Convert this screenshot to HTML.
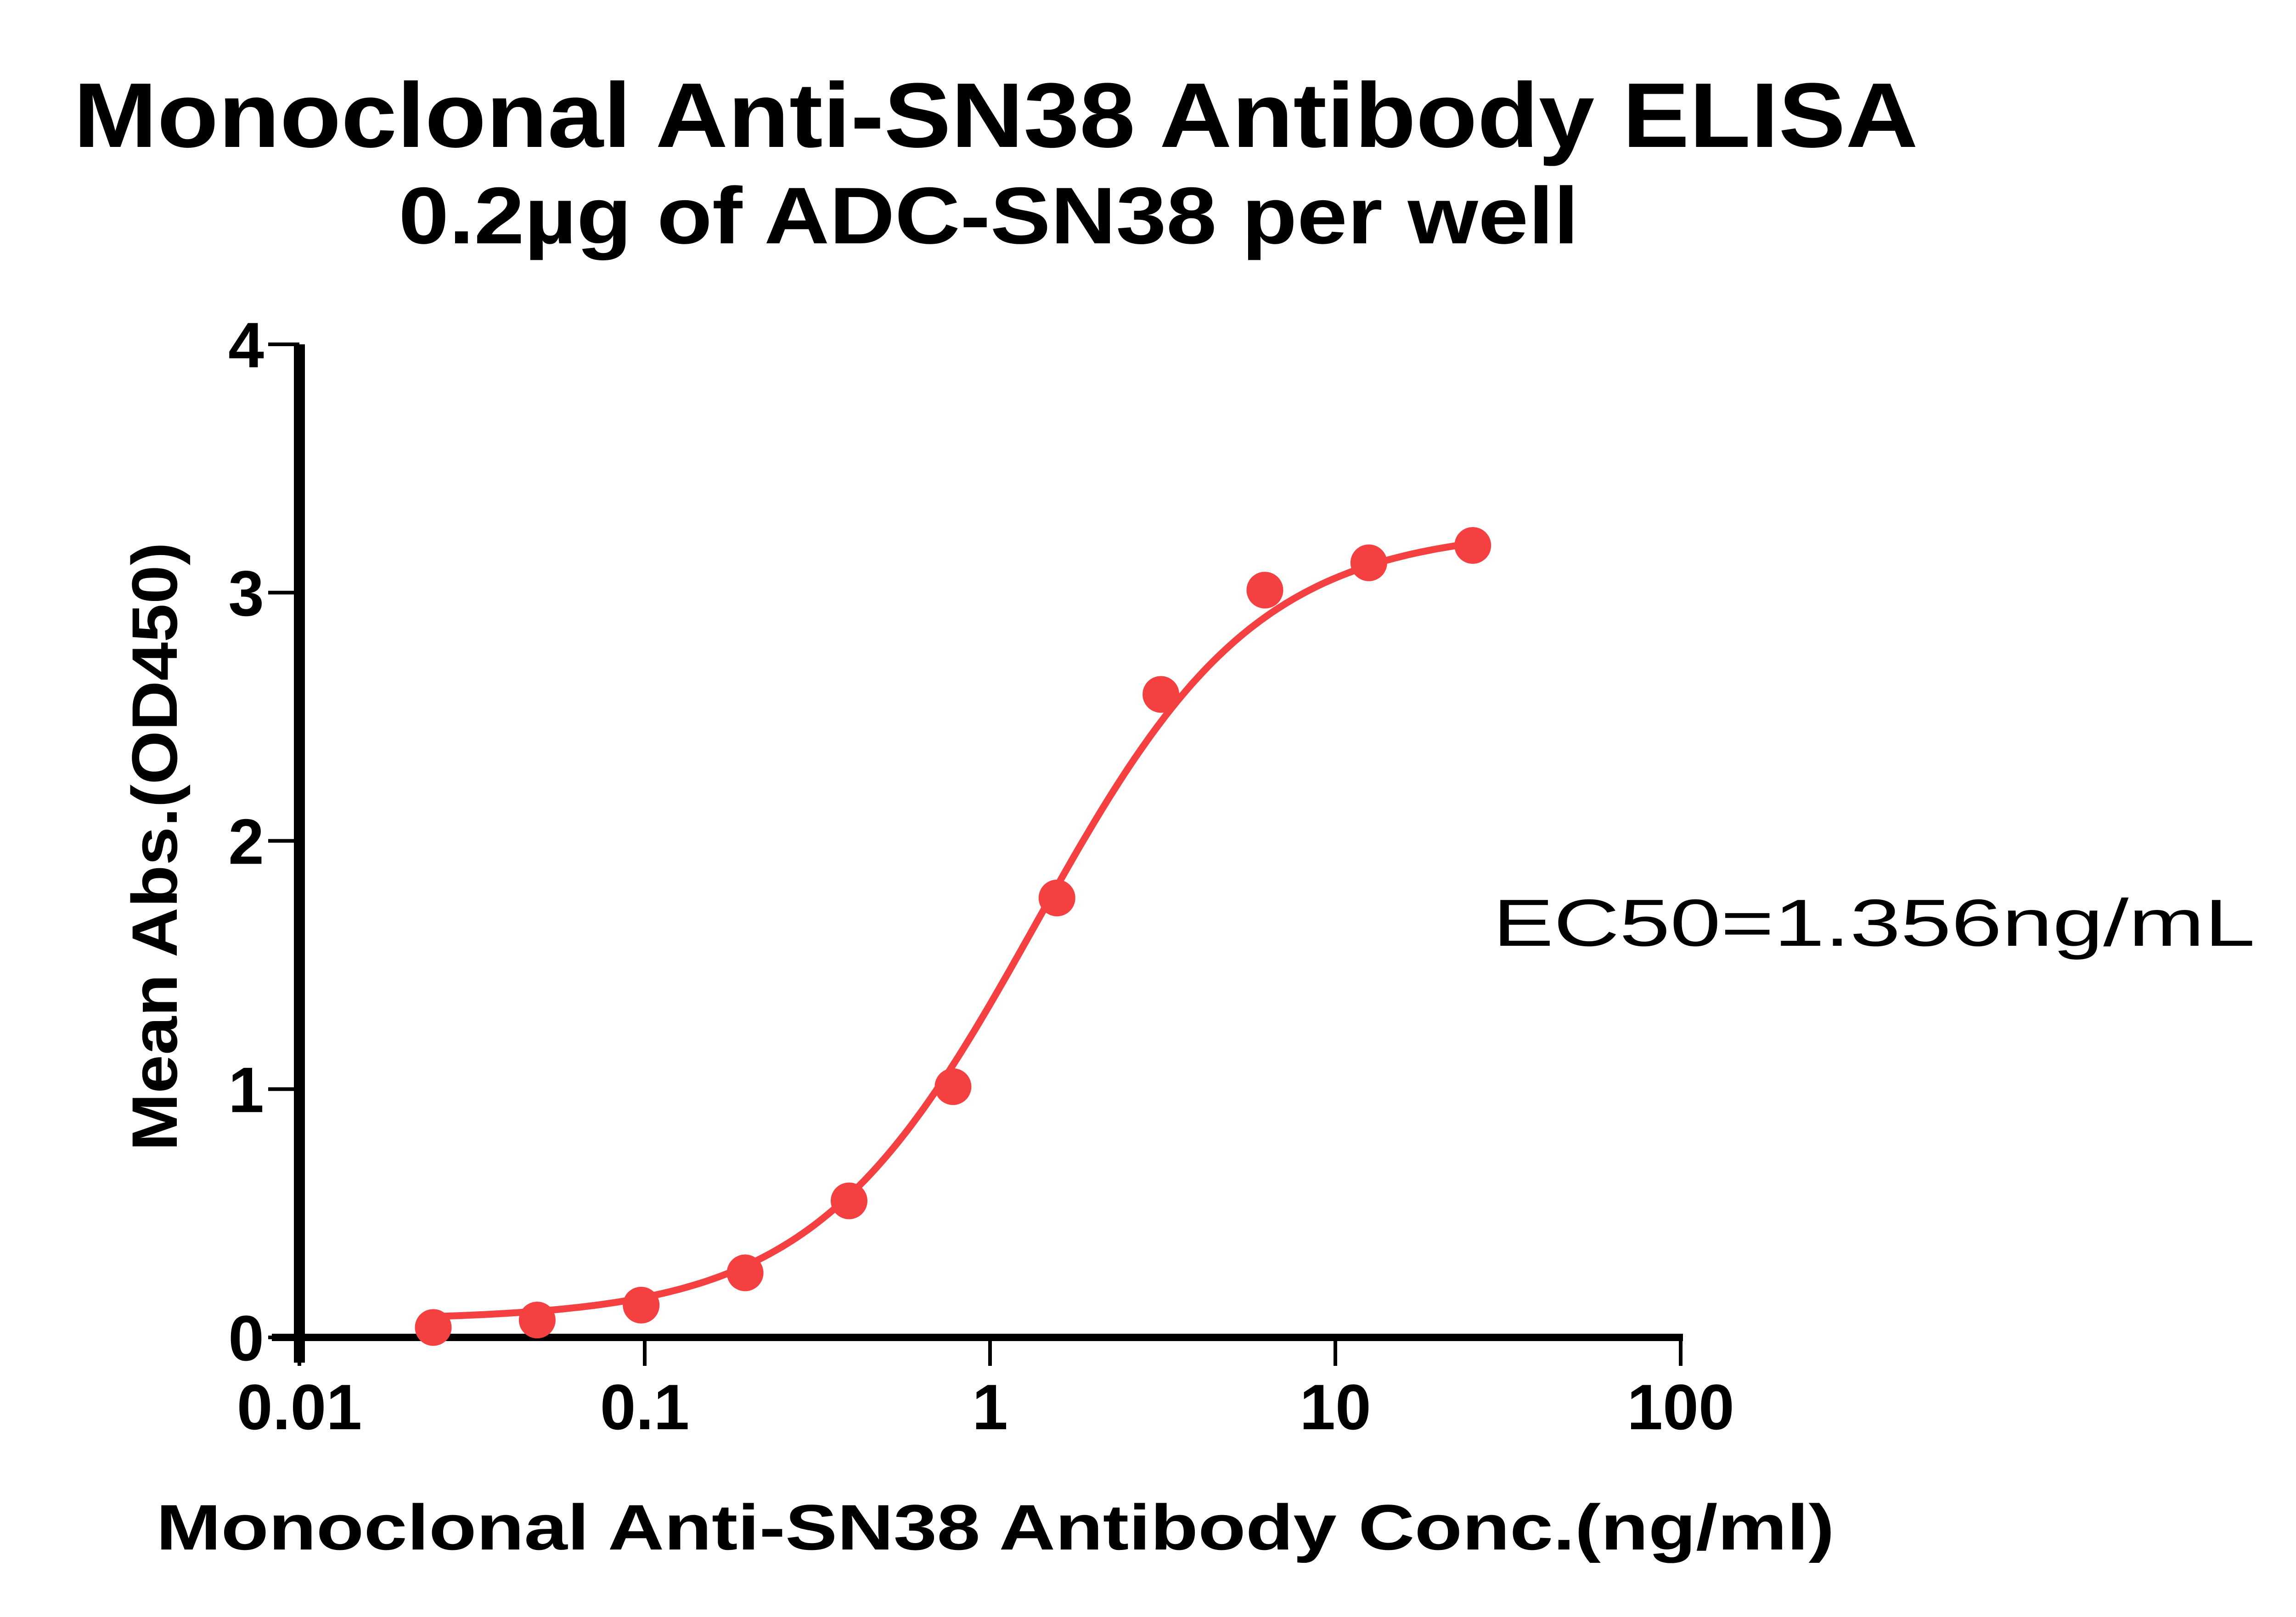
<!DOCTYPE html>
<html><head><meta charset="utf-8"><style>
html,body{margin:0;padding:0;background:#fff;}
svg{display:block;}
text{font-family:"Liberation Sans",Arial,sans-serif;fill:#000;}
</style></head><body>
<svg id="chart" width="5046" height="3522" viewBox="0 0 5046 3522" xmlns="http://www.w3.org/2000/svg">
<rect width="5046" height="3522" fill="#fff"/>
<text x="160" y="320" font-size="200" font-weight="bold" textLength="4017" lengthAdjust="spacingAndGlyphs">Monoclonal Anti-SN38 Antibody ELISA</text>
<text x="868" y="530" font-size="175" font-weight="bold" textLength="2570" lengthAdjust="spacingAndGlyphs">0.2µg of ADC-SN38 per well</text>
<text transform="translate(385,1844) rotate(-90)" text-anchor="middle" font-size="140" font-weight="bold" textLength="1326" lengthAdjust="spacingAndGlyphs">Mean Abs.(OD450)</text>
<text x="340" y="3375" font-size="140" font-weight="bold" textLength="3655" lengthAdjust="spacingAndGlyphs">Monoclonal Anti-SN38 Antibody Conc.(ng/ml)</text>
<text x="3251" y="2060" font-size="145" textLength="1660" lengthAdjust="spacingAndGlyphs">EC50=1.356ng/mL</text>
<g id="axes"></g>
<g id="series"></g>
</svg>
<script>
const xConc = [25, 12.5, 6.25, 3.125, 1.5625, 0.78125, 0.390625, 0.1953125, 0.09765625, 0.048828125, 0.0244140625];
const yAbs = [3.19, 3.12, 3.01, 2.59, 1.77, 1.01, 0.55, 0.26, 0.13, 0.07, 0.04];
const xTickValues = [0.01, 0.1, 1, 10, 100];
const xTickLabels = ["0.01", "0.1", "1", "10", "100"];
const yTickValues = [0, 1, 2, 3, 4];
const yTickLabels = ["0", "1", "2", "3", "4"];
const fitBottom = [0.07];
const fitTop = [3.26];
const fitEC50 = [1.356];
const fitHill = [1.35];

const NS = "http://www.w3.org/2000/svg";
const X0 = 652, X1 = 3660, Y0 = 2913, Y1 = 750;
function sx(v){ return X0 + (Math.log10(v) - Math.log10(0.01)) / 4 * (X1 - X0); }
function sy(v){ return Y0 + (v - 0) / 4 * (Y1 - Y0); }
function mk(tag, attrs, parent){ const e = document.createElementNS(NS, tag); for (const k in attrs) e.setAttribute(k, attrs[k]); parent.appendChild(e); return e; }

const axes = document.getElementById('axes');
const series = document.getElementById('series');

let yl = mk('line', {x1:X0, y1:Y1, x2:X0, y2:Y0+55, stroke:'#000', 'stroke-width':24}, axes);


let xl = mk('line', {x1:X0-60, y1:Y0, x2:X1+5, y2:Y0, stroke:'#000', 'stroke-width':16}, axes);



yTickValues.forEach((v, i) => {
  const y = sy(v);
  const t = mk('line', {x1:X0-68, y1:y, x2:X0, y2:y, stroke:'#000', 'stroke-width':8}, axes);
  
  
  const lb = mk('text', {x:575, y:y+50, 'text-anchor':'end', 'font-size':140, 'font-weight':'bold'}, axes);
  lb.textContent = yTickLabels[i];
  
  
});
xTickValues.forEach((v, i) => {
  const x = sx(v);
  const t = mk('line', {x1:x, y1:Y0, x2:x, y2:Y0+62, stroke:'#000', 'stroke-width':8}, axes);
  
  
  const lb = mk('text', {x:x, y:3113, 'text-anchor':'middle', 'font-size':140, 'font-weight':'bold'}, axes);
  lb.textContent = xTickLabels[i];
  
  
});

const xmin = Math.min(...xConc), xmax = Math.max(...xConc);
let d = '';
for (let k = 0; k <= 200; k++) {
  const lx = Math.log10(xmin) + (Math.log10(xmax) - Math.log10(xmin)) * k / 200;
  const x = Math.pow(10, lx);
  const y = fitBottom[0] + (fitTop[0] - fitBottom[0]) / (1 + Math.pow(fitEC50[0] / x, fitHill[0]));
  d += (k ? 'L' : 'M') + sx(x).toFixed(1) + ',' + sy(y).toFixed(1);
}
const curve = mk('path', {d:d, fill:'none', stroke:'#f44040', 'stroke-width':15, 'stroke-linejoin':'round'}, series);



xConc.forEach((c, i) => {
  const p = mk('circle', {cx:sx(c), cy:sy(yAbs[i]), r:40, fill:'#f44040'}, series);
  
  
});
</script>
</body></html>
